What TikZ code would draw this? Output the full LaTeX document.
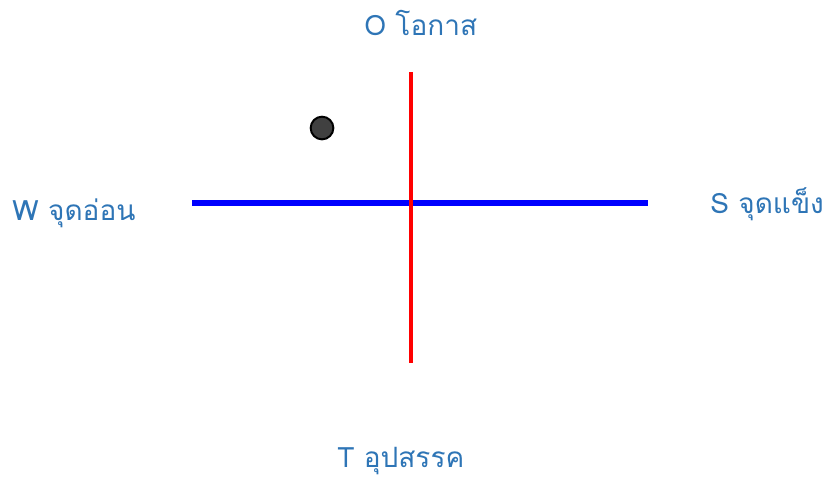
\documentclass[tikz,border=0pt]{standalone}
\usepackage{fontspec}
\newfontfamily\thaifont[Script=Thai]{Loma}
\usetikzlibrary{positioning}
\definecolor{labelcolor}{RGB}{46,117,182}
\definecolor{dotcolor}{RGB}{64,64,64}

\begin{document}
\begin{tikzpicture}[x=0.75pt, y=-0.75pt,
  swotlabel/.style={font=\thaifont\fontsize{21}{25}\selectfont, text=labelcolor, inner sep=0pt, anchor=base west}
]

\useasboundingbox (0,0) rectangle (827,479);

% ---- Axes ----
\coordinate (wend) at (192,203);
\coordinate (send) at (648,203);
\coordinate (oend) at (411,72);
\coordinate (tend) at (411,363);
\draw[blue, line width=3.8pt] (wend) -- (send);
\draw[red, line width=3pt] (oend) -- (tend);

% ---- Marker ----
\node[circle, draw=black, line width=1.5pt, fill=dotcolor, minimum size=17pt, inner sep=0pt] (dot) at (322,128) {};

% ---- Labels ----
\node[swotlabel] (opp) at (364,35) {O โอกาส};
\node[swotlabel] (weak) at (12,220) {W จุดอ่อน};
\node[swotlabel] (str) at (710,213) {S จุดแข็ง};
\node[swotlabel] (thr) at (337,467) {T อุปสรรค};

\end{tikzpicture}
\end{document}
